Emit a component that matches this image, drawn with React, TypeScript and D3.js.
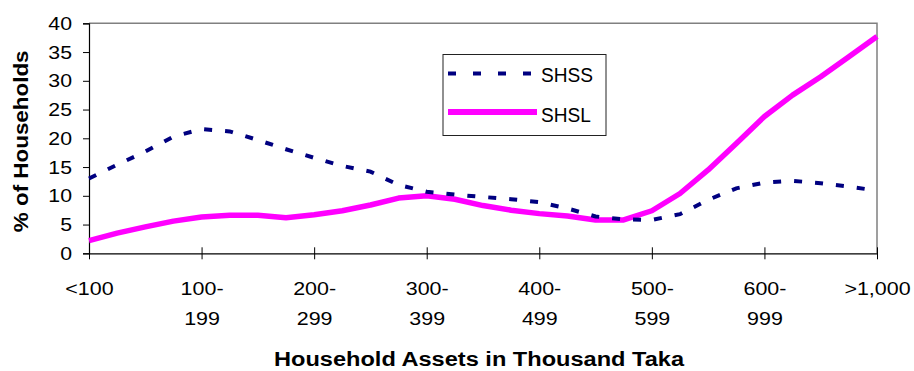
import React, { useEffect, useRef } from 'react';
import * as d3 from 'd3';

// category labels along the x axis (split on the line break)
const categories = ['<100', '100-|199', '200-|299', '300-|399', '400-|499', '500-|599', '600-|999', '>1,000'];

// x position of each reading, in category units (quarter steps)
const steps = [
  0, 0.25, 0.5, 0.75, 1, 1.25, 1.5, 1.75, 2, 2.25, 2.5, 2.75, 3, 3.25, 3.5,
  3.75, 4, 4.25, 4.5, 4.75, 5, 5.25, 5.5, 5.75, 6, 6.25, 6.5, 6.75, 7
];

const shss = [
  13.0, 15.4, 17.7, 20.3, 21.6, 21.2, 19.7, 18.1, 16.6, 15.2, 14.2, 11.9, 10.7, 10.2, 9.8,
  9.4, 8.9, 7.8, 6.4, 5.9, 5.8, 6.8, 9.3, 11.3, 12.3, 12.6, 12.2, 11.6, 10.9
];

const shsl = [
  2.2, 3.5, 4.6, 5.6, 6.3, 6.6, 6.6, 6.2, 6.7, 7.4, 8.4, 9.6, 10.0, 9.4, 8.3,
  7.5, 6.9, 6.5, 5.8, 5.8, 7.4, 10.4, 14.5, 19.1, 23.8, 27.5, 30.7, 34.2, 37.7
];

const seriesNames = ['SHSS', 'SHSL'];

const yTicks = [0, 5, 10, 15, 20, 25, 30, 35, 40];

const FONT = '"Liberation Sans", Arial, sans-serif';

export default function App() {
  const svgRef = useRef<SVGSVGElement>(null);

  useEffect(() => {
    document.body.style.margin = '0';
    if (!svgRef.current) return;

    const svg = d3.select(svgRef.current);
    svg.selectAll('*').remove();

    const left = 89;
    const right = 877;
    const top = 23.3;
    const bottom = 253.3;

    const x = d3.scaleLinear().domain([0, categories.length - 1]).range([left, right]);
    const y = d3.scaleLinear().domain([0, 40]).range([bottom, top]);

    // text drawn with a horizontal stretch, the way the old chart renders it
    const stretched = (
      parent: d3.Selection<any, any, any, any>,
      tx: number,
      ty: number,
      s: string,
      size: number,
      sx: number,
      anchor: string,
      bold = false
    ) =>
      parent.append('text')
        .attr('transform', `translate(${tx},${ty}) scale(${sx},1)`)
        .attr('font-family', FONT)
        .attr('font-size', size)
        .attr('font-weight', bold ? 'bold' : 'normal')
        .attr('text-anchor', anchor)
        .attr('fill', '#000')
        .text(s);

    // plot area border (top / right in grey)
    svg.append('path')
      .attr('d', `M${left},${top}H${right}V${bottom}`)
      .attr('fill', 'none')
      .attr('stroke', '#808080')
      .attr('stroke-width', 1.5);

    // y axis
    const yAxis = svg.append('g')
      .attr('transform', `translate(${left},0)`)
      .call(d3.axisLeft(y).tickValues(yTicks).tickSize(6).tickFormat(() => ''));
    yAxis.select('.domain').attr('stroke', '#000').attr('stroke-width', 1.2);
    yAxis.selectAll('line').attr('stroke', '#000');
    yTicks.forEach(t => {
      stretched(svg, 72, y(t) + 6.5, String(t), 18.5, 1.15, 'end');
    });

    // x axis
    const xAxis = svg.append('g')
      .attr('transform', `translate(0,${bottom})`)
      .call(d3.axisBottom(x).tickValues(d3.range(categories.length)).tickSizeInner(6).tickSizeOuter(0).tickFormat(() => ''));
    xAxis.select('.domain').attr('stroke', '#000').attr('stroke-width', 1.2);
    xAxis.selectAll('.tick line').attr('y1', -6).attr('stroke', '#000');

    categories.forEach((c, i) => {
      c.split('|').forEach((part, j) => {
        stretched(svg, x(i) + 0.5, 295 + j * 30, part, 18.5, 1.16, 'middle');
      });
    });

    // axis titles
    stretched(svg, 479, 366, 'Household Assets in Thousand Taka', 19.5, 1.21, 'middle', true);

    svg.append('text')
      .attr('transform', `translate(28,${(top + bottom) / 2 + 3}) rotate(-90) scale(1.15,1)`)
      .attr('text-anchor', 'middle')
      .attr('font-family', FONT)
      .attr('font-weight', 'bold')
      .attr('font-size', 19.5)
      .text('% of Households');

    // series
    const line = d3.line<number>()
      .x((_, i) => x(steps[i]))
      .y(d => y(d));

    svg.append('path')
      .datum(shsl)
      .attr('d', line)
      .attr('fill', 'none')
      .attr('stroke', '#ff00ff')
      .attr('stroke-width', 5.5)
      .attr('stroke-linejoin', 'round');

    svg.append('path')
      .datum(shss)
      .attr('d', line)
      .attr('fill', 'none')
      .attr('stroke', '#000080')
      .attr('stroke-width', 4)
      .attr('stroke-dasharray', '8,13');

    // legend
    const legend = svg.append('g');
    legend.append('rect')
      .attr('x', 443)
      .attr('y', 54.5)
      .attr('width', 163)
      .attr('height', 81)
      .attr('fill', '#fff')
      .attr('stroke', '#222')
      .attr('stroke-width', 1);

    legend.append('line')
      .attr('x1', 448).attr('x2', 533)
      .attr('y1', 73.5).attr('y2', 73.5)
      .attr('stroke', '#000080')
      .attr('stroke-width', 4)
      .attr('stroke-dasharray', '8,17');

    legend.append('line')
      .attr('x1', 448).attr('x2', 537)
      .attr('y1', 112).attr('y2', 112)
      .attr('stroke', '#ff00ff')
      .attr('stroke-width', 6);

    seriesNames.forEach((name, i) => {
      stretched(legend, 541, 82.3 + i * 39.4, name, 21, 0.91, 'start');
    });
  }, []);

  return (
    <svg
      ref={svgRef}
      width={914}
      height={371}
      style={{ display: 'block', background: '#fff' }}
    />
  );
}
